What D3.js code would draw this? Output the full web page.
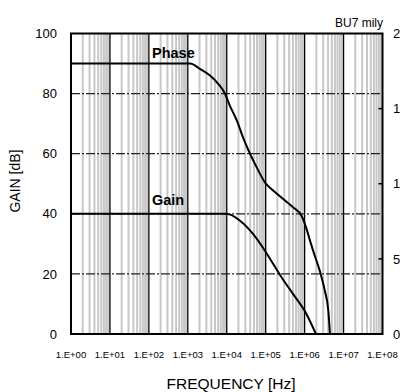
<!DOCTYPE html>
<html>
<head>
<meta charset="utf-8">
<script src="https://cdn.jsdelivr.net/npm/d3@7/dist/d3.min.js"></script>
<style>
html,body{margin:0;padding:0;background:#fff;overflow:hidden;}
svg{display:block;font-family:"Liberation Sans",Arial,sans-serif;}
</style>
</head>
<body>
<svg id="chart" width="400" height="392"></svg>
<script>
// ---- data ----
const xTickLabels = ["1.E+00","1.E+01","1.E+02","1.E+03","1.E+04","1.E+05","1.E+06","1.E+07","1.E+08"];
const decades = [1,1e1,1e2,1e3,1e4,1e5,1e6,1e7,1e8];
const gainTicks = [0,20,40,60,80,100];
const phaseTicks = [0,50,100,150,200];

const gainFreq = [1, 1e4, 2.19e4, 4.79e4, 9.55e4, 1.58e5, 2.57e5, 5.13e5, 1.12e6, 1.95e6];
const gainDb   = [40, 40, 37.7, 33.2, 27.7, 23.2, 18.8, 13.2, 6.6, 0];

const phaseFreq = [1, 1150, 2040, 3720, 6030, 8910, 1.2e4, 1.82e4, 2.63e4, 3.98e4, 5.89e4, 9.55e4,
                   1.58e5, 2.82e5, 5.13e5, 8.32e5, 1.12e6, 1.38e6, 1.66e6, 2.45e6, 3.31e6, 4.07e6, 4.47e6];
const phaseDeg  = [180, 180, 176.5, 172, 166.5, 160.2, 152, 142, 130.7, 119.8, 110.9, 100.9,
                   95.3, 89.8, 84.2, 78.7, 70, 62, 55.3, 42, 28.7, 15.3, 0];

// ---- layout ----
const L = 71, R = 382.5, T = 33.5, B = 334;
const svg = d3.select("#chart");

const x = d3.scaleLog().domain([1, 1e8]).range([L, R]);
const yG = d3.scaleLinear().domain([0, 100]).range([B, T]);
const yP = d3.scaleLinear().domain([0, 200]).range([B, T]);

// minor gridlines (2..9 of each decade)
const minors = [];
for (let d = 0; d < 8; d++) for (let m = 2; m <= 9; m++) minors.push(m * Math.pow(10, d));
svg.append("g").selectAll("line").data(minors).join("line")
  .attr("x1", d => x(d)).attr("x2", d => x(d))
  .attr("y1", T).attr("y2", B)
  .attr("stroke", "#c8c8c8").attr("stroke-width", 2);

// decade gridlines
svg.append("g").selectAll("line").data(decades.slice(1, -1)).join("line")
  .attr("x1", d => x(d)).attr("x2", d => x(d))
  .attr("y1", T).attr("y2", B)
  .attr("stroke", "#000").attr("stroke-width", 1.3);

// horizontal gridlines
svg.append("g").selectAll("line").data(gainTicks.slice(1, -1)).join("line")
  .attr("x1", L).attr("x2", R)
  .attr("y1", d => yG(d)).attr("y2", d => yG(d))
  .attr("stroke", "#222").attr("stroke-width", 1.3)
  .attr("stroke-dasharray", "9,2,2,2");

// right axis ticks (inside)
svg.append("g").selectAll("line").data(phaseTicks.slice(1, -1)).join("line")
  .attr("x1", R - 4).attr("x2", R)
  .attr("y1", d => yP(d)).attr("y2", d => yP(d))
  .attr("stroke", "#000").attr("stroke-width", 1.5);

// curves
const gainLine = d3.line().curve(d3.curveMonotoneX).x(d => x(d[0])).y(d => yG(d[1]));
const phaseLine = d3.line().curve(d3.curveMonotoneX).x(d => x(d[0])).y(d => yP(d[1]));
svg.append("path").datum(gainFreq.map((f, i) => [f, gainDb[i]]))
  .attr("d", gainLine).attr("fill", "none").attr("stroke", "#000").attr("stroke-width", 2);
svg.append("path").datum(phaseFreq.map((f, i) => [f, phaseDeg[i]]))
  .attr("d", phaseLine).attr("fill", "none").attr("stroke", "#000").attr("stroke-width", 2);

// plot border
svg.append("rect").attr("x", L).attr("y", T).attr("width", R - L).attr("height", B - T)
  .attr("fill", "none").attr("stroke", "#000").attr("stroke-width", 2);

// left axis labels
svg.append("g").selectAll("text").data(gainTicks).join("text")
  .attr("x", 57).attr("y", d => yG(d)).attr("dy", "0.36em")
  .attr("text-anchor", "end").attr("font-size", 13).text(d => d);

// right axis labels (cut by the window edge, as in the reference)
svg.append("g").selectAll("text").data(phaseTicks).join("text")
  .attr("x", 393).attr("y", d => yP(d)).attr("dy", "0.36em")
  .attr("text-anchor", "start").attr("font-size", 13).text(d => d);

// x tick labels
svg.append("g").selectAll("text").data(decades).join("text")
  .attr("x", d => x(d)).attr("y", 358)
  .attr("text-anchor", "middle").attr("font-size", 9.5)
  .text((d, i) => xTickLabels[i]);

// axis titles
svg.append("text").attr("x", 231).attr("y", 389).attr("text-anchor", "middle")
  .attr("font-size", 15.5).text("FREQUENCY [Hz]");
svg.append("text").attr("transform", "translate(20,181) rotate(-90)")
  .attr("text-anchor", "middle").attr("font-size", 14).text("GAIN [dB]");

// corner note
svg.append("text").attr("x", 383).attr("y", 27).attr("text-anchor", "end")
  .attr("font-size", 12).text("BU7 mily");

// series labels
svg.append("text").attr("x", 152).attr("y", 58).attr("font-weight", "bold")
  .attr("font-size", 14.5).text("Phase");
svg.append("text").attr("x", 152).attr("y", 205).attr("font-weight", "bold")
  .attr("font-size", 14.5).text("Gain");
</script>
</body>
</html>
